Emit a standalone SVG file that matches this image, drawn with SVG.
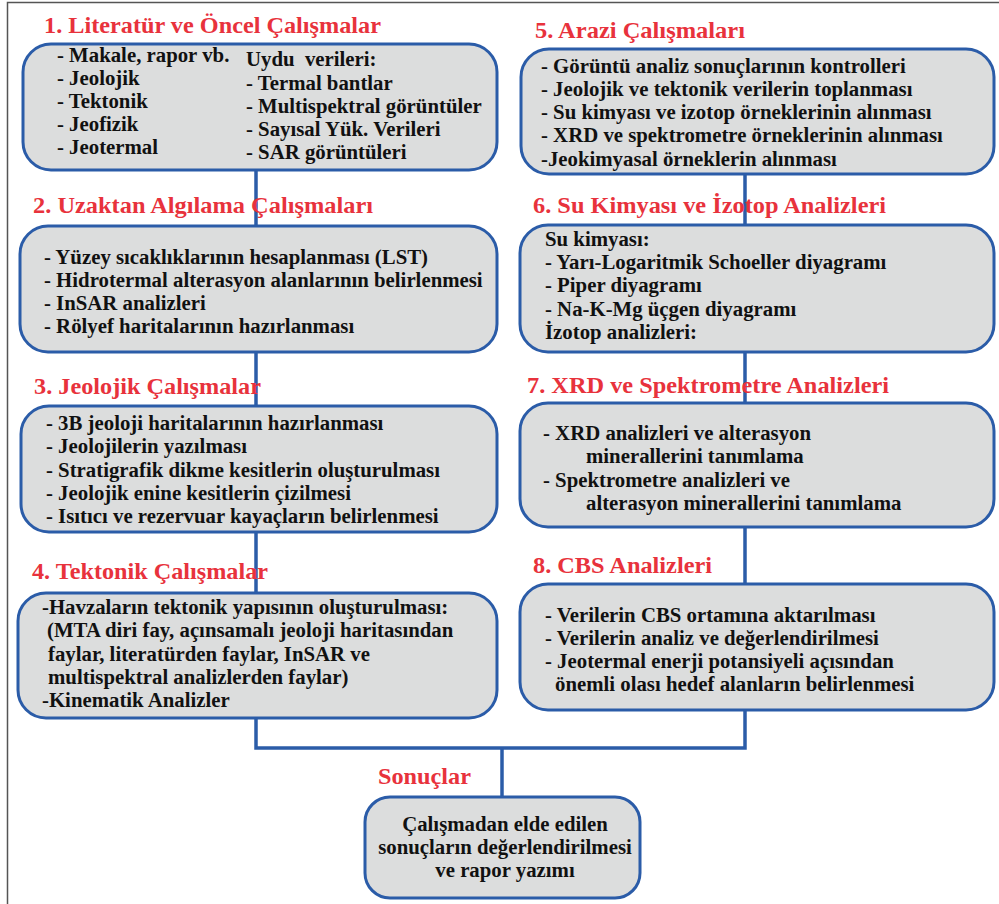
<svg xmlns="http://www.w3.org/2000/svg" width="999" height="904" viewBox="0 0 999 904">
<style>
.box{fill:#dcdddd;stroke:#2b5ca8;stroke-width:3}
.ln{stroke:#2b5ca8;stroke-width:3.5;fill:none}
.h{font-family:"Liberation Serif","Times New Roman",serif;font-weight:bold;font-size:22.5px;fill:#e8323c}
.t{font-family:"Liberation Serif","Times New Roman",serif;font-weight:bold;font-size:20.8px;fill:#111}
</style>
<rect width="999" height="904" fill="#fff"/>
<path d="M7.5,904 V2.5 H999" fill="none" stroke="#555" stroke-width="1.5"/>
<g id="connectors">
<path class="ln" d="M256,170 V748 H745 V174"/>
<path class="ln" d="M502,748 V797"/>
</g>
<g id="n1">
<text class="h" x="44" y="33" textLength="337" lengthAdjust="spacingAndGlyphs">1. Literatür ve Öncel Çalışmalar</text>
<rect class="box" x="23" y="44" width="474" height="126" rx="28"/>
<text class="t" x="57" y="62">- Makale, rapor vb.</text>
<text class="t" x="57" y="85">- Jeolojik</text>
<text class="t" x="57" y="108">- Tektonik</text>
<text class="t" x="57" y="131">- Jeofizik</text>
<text class="t" x="57" y="154">- Jeotermal</text>
<text class="t" x="246" y="66" xml:space="preserve">Uydu  verileri:</text>
<text class="t" x="246" y="90">- Termal bantlar</text>
<text class="t" x="246" y="113">- Multispektral görüntüler</text>
<text class="t" x="246" y="136">- Sayısal Yük. Verileri</text>
<text class="t" x="246" y="159">- SAR görüntüleri</text>
</g>
<g id="n2">
<text class="h" x="33" y="213" textLength="340" lengthAdjust="spacingAndGlyphs">2. Uzaktan Algılama Çalışmaları</text>
<rect class="box" x="20" y="226" width="477" height="126" rx="28"/>
<text class="t" x="44" y="264">- Yüzey sıcaklıklarının hesaplanması (LST)</text>
<text class="t" x="44" y="287">- Hidrotermal alterasyon alanlarının belirlenmesi</text>
<text class="t" x="44" y="310">- InSAR analizleri</text>
<text class="t" x="44" y="333">- Rölyef haritalarının hazırlanması</text>
</g>
<g id="n3">
<text class="h" x="34" y="394" textLength="227" lengthAdjust="spacingAndGlyphs">3. Jeolojik Çalışmalar</text>
<rect class="box" x="21" y="406" width="476" height="126" rx="28"/>
<text class="t" x="46" y="430">- 3B jeoloji haritalarının hazırlanması</text>
<text class="t" x="46" y="453">- Jeolojilerin yazılması</text>
<text class="t" x="46" y="477">- Stratigrafik dikme kesitlerin oluşturulması</text>
<text class="t" x="46" y="500">- Jeolojik enine kesitlerin çizilmesi</text>
<text class="t" x="46" y="523">- Isıtıcı ve rezervuar kayaçların belirlenmesi</text>
</g>
<g id="n4">
<text class="h" x="32" y="579" textLength="236" lengthAdjust="spacingAndGlyphs">4. Tektonik Çalışmalar</text>
<rect class="box" x="18" y="593" width="479" height="125" rx="28"/>
<text class="t" x="42" y="614">-Havzaların tektonik yapısının oluşturulması:</text>
<text class="t" x="47" y="637">(MTA diri fay, açınsamalı jeoloji haritasından</text>
<text class="t" x="48" y="661">faylar, literatürden faylar, InSAR ve</text>
<text class="t" x="48" y="684">multispektral analizlerden faylar)</text>
<text class="t" x="42" y="707">-Kinematik Analizler</text>
</g>
<g id="n5">
<text class="h" x="535" y="38" textLength="210" lengthAdjust="spacingAndGlyphs">5. Arazi Çalışmaları</text>
<rect class="box" x="521" y="49" width="473" height="125" rx="28"/>
<text class="t" x="541" y="73">- Görüntü analiz sonuçlarının kontrolleri</text>
<text class="t" x="541" y="96">- Jeolojik ve tektonik verilerin toplanması</text>
<text class="t" x="541" y="119">- Su kimyası ve izotop örneklerinin alınması</text>
<text class="t" x="541" y="142">- XRD ve spektrometre örneklerinin alınması</text>
<text class="t" x="541" y="166">-Jeokimyasal örneklerin alınması</text>
</g>
<g id="n6">
<text class="h" x="533" y="213" textLength="353" lengthAdjust="spacingAndGlyphs">6. Su Kimyası ve İzotop Analizleri</text>
<rect class="box" x="520" y="225" width="474" height="127" rx="28"/>
<text class="t" x="545" y="246">Su kimyası:</text>
<text class="t" x="545" y="269">- Yarı-Logaritmik Schoeller diyagramı</text>
<text class="t" x="545" y="292">- Piper diyagramı</text>
<text class="t" x="545" y="316">- Na-K-Mg üçgen diyagramı</text>
<text class="t" x="545" y="339">İzotop analizleri:</text>
</g>
<g id="n7">
<text class="h" x="527" y="393" textLength="362" lengthAdjust="spacingAndGlyphs">7. XRD ve Spektrometre Analizleri</text>
<rect class="box" x="520" y="403" width="474" height="124" rx="28"/>
<text class="t" x="543" y="440">- XRD analizleri ve alterasyon</text>
<text class="t" x="586" y="463">minerallerini tanımlama</text>
<text class="t" x="543" y="487">- Spektrometre analizleri ve</text>
<text class="t" x="586" y="510">alterasyon minerallerini tanımlama</text>
</g>
<g id="n8">
<text class="h" x="533" y="573" textLength="179" lengthAdjust="spacingAndGlyphs">8. CBS Analizleri</text>
<rect class="box" x="520" y="584" width="474" height="126" rx="28"/>
<text class="t" x="545" y="622">- Verilerin CBS ortamına aktarılması</text>
<text class="t" x="545" y="645">- Verilerin analiz ve değerlendirilmesi</text>
<text class="t" x="545" y="668">- Jeotermal enerji potansiyeli açısından</text>
<text class="t" x="555" y="691">önemli olası hedef alanların belirlenmesi</text>
</g>
<g id="n9">
<text class="h" x="378" y="784" textLength="93" lengthAdjust="spacingAndGlyphs">Sonuçlar</text>
<rect class="box" x="365" y="797" width="275" height="101" rx="25"/>
<text class="t" x="505" y="831" text-anchor="middle">Çalışmadan elde edilen</text>
<text class="t" x="505" y="854" text-anchor="middle">sonuçların değerlendirilmesi</text>
<text class="t" x="505" y="877" text-anchor="middle">ve rapor yazımı</text>
</g>
</svg>
